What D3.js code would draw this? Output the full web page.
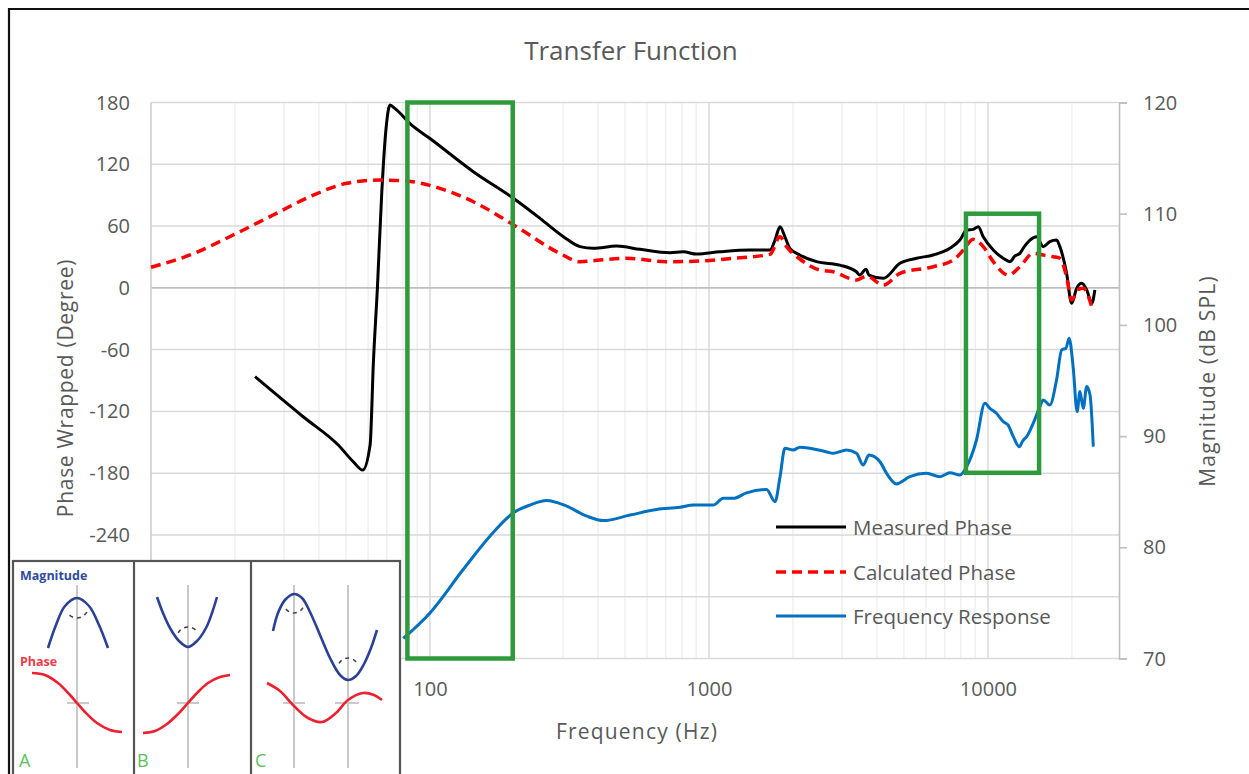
<!DOCTYPE html>
<html>
<head>
<meta charset="utf-8">
<script src="https://cdn.jsdelivr.net/npm/d3@7"></script>
<style>
  html, body { margin: 0; padding: 0; background: #fff; }
  svg { display: block; font-family: "Open Sans", "DejaVu Sans", sans-serif; }
</style>
</head>
<body>
<svg id="chart" width="1249" height="774"></svg>
<script>
// ---- data ----------------------------------------------------------------
const measuredFreq  = [23.6, 35.1, 46.9, 53.1, 57.4, 61.0, 62.7, 64.8, 67.1, 69.6, 71.9, 75, 86, 100, 143, 199, 248, 301, 345, 385, 467, 566, 725, 809, 903, 1095, 1402, 1655, 1725, 1797, 1872, 1949, 2118, 2430, 2944, 3380, 3470, 3657, 3745, 4217, 4838, 5548, 6364, 7305, 7937, 8386, 8860, 9234, 9620, 10450, 11350, 11990, 12500, 13020, 13500, 14150, 14940, 15780, 16670, 17620, 18110, 19140, 19950, 20800, 21680, 22600, 23560, 24170];
const measuredPhase = [-86.3, -125.2, -152.7, -168.9, -177, -152.7, -71.8, 0, 90, 155, 177.5, 174, 158, 145, 112.8, 87, 67.5, 49.6, 40, 38.4, 40.6, 37.4, 34.1, 35, 32.8, 35, 36.7, 36.7, 46.4, 59.3, 49.6, 38.4, 31.9, 25.4, 22.1, 15.6, 12.4, 18, 12.4, 9.2, 23.8, 28.7, 31.9, 38.4, 46.4, 56.1, 56.8, 59.3, 49.6, 36.7, 28.7, 25.4, 31, 33.5, 40, 46.4, 49.6, 40, 44.8, 46.4, 40, 14.1, -15, -0.5, 4.4, -2, -15, -2];

const calcFreq  = [10, 13.8, 19.7, 27.4, 38.2, 50.3, 66.2, 82.4, 108.6, 143, 204.5, 292, 345, 406, 507, 705, 929, 1222, 1655, 1797, 1897, 2118, 2500, 2788, 3380, 3675, 4217, 4838, 6364, 7516, 8167, 8860, 9620, 10450, 11830, 13020, 14530, 15780, 17140, 18110, 19140, 19950, 21080, 21960, 23560];
const calcPhase = [20, 31.9, 51.3, 70.7, 90.1, 101.5, 104.7, 103.7, 96.6, 83.6, 59.3, 33.5, 25.4, 27, 28.7, 25.4, 26, 28.7, 32.5, 49.6, 40, 28, 17.3, 15.6, 7.6, 11.5, 2.7, 14.1, 20.5, 27, 36.7, 47.1, 40, 25.4, 12.4, 20.5, 33.5, 31.9, 30.2, 28.7, 10.8, -11.8, -1.5, -0.5, -18.3];

const magFreq = [80.2, 100, 131.5, 164, 199, 228, 262, 309, 365, 418, 521, 650, 788, 879, 1036, 1126, 1222, 1364, 1609, 1725, 1797, 1872, 2004, 2118, 2622, 2788, 3115, 3380, 3573, 3745, 4102, 4333, 4698, 5248, 6025, 6730, 7305, 7937, 8386, 9100, 9750, 10160, 10730, 11350, 11800, 12330, 12950, 13350, 13770, 14530, 15350, 15780, 16670, 17620, 18380, 19040, 19540, 20200, 20880, 21370, 21960, 22600, 23230, 23860];
const magDb   = [71.8, 74.1, 78, 81, 83.1, 83.8, 84.2, 83.7, 82.8, 82.4, 82.9, 83.4, 83.6, 83.8, 83.8, 84.4, 84.4, 84.9, 85.2, 84.1, 86.3, 88.9, 88.75, 89, 88.6, 88.45, 88.75, 88.45, 87.4, 88.3, 87.7, 86.65, 85.7, 86.35, 86.65, 86.35, 86.7, 86.5, 87.25, 89.65, 92.95, 92.5, 92.05, 91.3, 91.0, 89.95, 89.05, 89.6, 89.95, 91.15, 92.65, 93.25, 92.8, 95.05, 97.75, 97.9, 98.8, 96.25, 92.2, 94, 92.5, 94.45, 93.7, 89.05];

// highlighted frequency bands (Hz) with their magnitude extent (dB)
const bandLowHz  = [83, 8340];
const bandHighHz = [198, 15250];
const bandTopDb  = [120, 110];
const bandBotDb  = [70, 86.7];

const phaseTicks = [180, 120, 60, 0, -60, -120, -180, -240, -300, -360];
const magTicks   = [70, 80, 90, 100, 110, 120];
const freqTickLabels = [10, 100, 1000, 10000];

const legendNames = ["Measured Phase", "Calculated Phase", "Frequency Response"];

// ---- layout --------------------------------------------------------------
const svg = d3.select("#chart");
const plot = { left: 151, right: 1119, top: 102.5, bottom: 658.5 };
const textColor = "#595959";
const plain = d => String(d);   // keeps the ASCII hyphen for negatives

const x = d3.scaleLog().domain([10, 29500]).range([plot.left, plot.right]);
const yPhase = d3.scaleLinear().domain([-360, 180]).range([plot.bottom, plot.top]);
const yMag = d3.scaleLinear().domain([70, 120]).range([plot.bottom, plot.top]);

svg.append("rect").attr("width", 1249).attr("height", 774).attr("fill", "#fff");

// figure frame
svg.append("path")
  .attr("d", "M9,774 V9 H1249")
  .attr("fill", "none").attr("stroke", "#111").attr("stroke-width", 2.2);

// title
svg.append("text").attr("x", 631).attr("y", 50)
  .attr("text-anchor", "middle").attr("dominant-baseline", "central")
  .attr("font-size", 26).attr("fill", textColor).text("Transfer Function");

// vertical gridlines (log decades)
const minorFreqs = [];
for (let dec = 10; dec <= 10000; dec *= 10) {
  for (let m = 1; m <= 9; m++) {
    const f = dec * m;
    if (f <= 29500) minorFreqs.push(f);
  }
}
const gGrid = svg.append("g");
gGrid.selectAll("line.vminor").data(minorFreqs.filter(f => !freqTickLabels.includes(f)))
  .join("line")
  .attr("x1", d => x(d)).attr("x2", d => x(d))
  .attr("y1", plot.top).attr("y2", plot.bottom)
  .attr("stroke", "#ececec").attr("stroke-width", 1.2);
gGrid.selectAll("line.vmajor").data(freqTickLabels.slice(1))
  .join("line")
  .attr("x1", d => x(d)).attr("x2", d => x(d))
  .attr("y1", plot.top).attr("y2", plot.bottom)
  .attr("stroke", "#d9d9d9").attr("stroke-width", 1.5);
gGrid.selectAll("line.h").data(phaseTicks.filter(d => d !== 0))
  .join("line")
  .attr("x1", plot.left).attr("x2", plot.right)
  .attr("y1", d => yPhase(d)).attr("y2", d => yPhase(d))
  .attr("stroke", "#d9d9d9").attr("stroke-width", 1.5);

// axes lines
svg.append("line").attr("x1", plot.left).attr("x2", plot.right)
  .attr("y1", yPhase(0)).attr("y2", yPhase(0))
  .attr("stroke", "#bfbfbf").attr("stroke-width", 1.6);
svg.append("line").attr("x1", plot.left).attr("x2", plot.left)
  .attr("y1", plot.top).attr("y2", plot.bottom)
  .attr("stroke", "#cfcfcf").attr("stroke-width", 1.6);

// right magnitude axis
const rightAxis = d3.axisRight(yMag).tickValues(magTicks).tickSize(8).tickPadding(16).tickFormat(plain);
const gR = svg.append("g").attr("transform", `translate(${plot.right},0)`).call(rightAxis);
gR.select(".domain").attr("stroke", "#bfbfbf").attr("stroke-width", 1.6);
gR.selectAll(".tick line").attr("stroke", "#bfbfbf").attr("stroke-width", 1.6);
gR.selectAll(".tick text").attr("font-size", 20).attr("fill", textColor)
  .attr("font-family", "Open Sans, sans-serif").attr("dy", "0.33em");

// left phase axis labels
const leftAxis = d3.axisLeft(yPhase).tickValues(phaseTicks).tickSize(0).tickPadding(21).tickFormat(plain);
const gL = svg.append("g").attr("transform", `translate(${plot.left},0)`).call(leftAxis);
gL.select(".domain").remove();
gL.selectAll(".tick text").attr("font-size", 20).attr("fill", textColor)
  .attr("font-family", "Open Sans, sans-serif").attr("dy", "0.33em");

// frequency labels
const bottomAxis = d3.axisBottom(x).tickValues(freqTickLabels).tickSize(0).tickFormat(plain);
const gB = svg.append("g").attr("transform", `translate(0,${plot.bottom + 20})`).call(bottomAxis);
gB.select(".domain").remove();
gB.selectAll(".tick text").attr("font-size", 20).attr("fill", textColor)
  .attr("font-family", "Open Sans, sans-serif");

// axis titles
svg.append("text").attr("transform", "translate(65,388) rotate(-90)")
  .attr("text-anchor", "middle").attr("dominant-baseline", "central")
  .attr("font-size", 21).attr("letter-spacing", 0.7)
  .attr("fill", textColor).text("Phase Wrapped (Degree)");
svg.append("text").attr("transform", "translate(1207,381) rotate(-90)")
  .attr("text-anchor", "middle").attr("dominant-baseline", "central")
  .attr("font-size", 21).attr("letter-spacing", 1.2)
  .attr("fill", textColor).text("Magnitude (dB SPL)");
svg.append("text").attr("x", 637).attr("y", 731)
  .attr("text-anchor", "middle").attr("dominant-baseline", "central")
  .attr("font-size", 21).attr("letter-spacing", 1.2)
  .attr("fill", textColor).text("Frequency (Hz)");

// ---- series --------------------------------------------------------------
const phaseLine = d3.line().x(d => x(d[0])).y(d => yPhase(d[1])).curve(d3.curveMonotoneX);
const magLine = d3.line().x(d => x(d[0])).y(d => yMag(d[1])).curve(d3.curveMonotoneX);

svg.append("path").datum(d3.zip(measuredFreq, measuredPhase))
  .attr("d", phaseLine).attr("fill", "none")
  .attr("stroke", "#000").attr("stroke-width", 3).attr("stroke-linejoin", "round");
svg.append("path").datum(d3.zip(calcFreq, calcPhase))
  .attr("d", phaseLine).attr("fill", "none")
  .attr("stroke", "#ff0000").attr("stroke-width", 3.5).attr("stroke-dasharray", "10,6");
svg.append("path").datum(d3.zip(magFreq, magDb))
  .attr("d", magLine).attr("fill", "none")
  .attr("stroke", "#0070c0").attr("stroke-width", 3).attr("stroke-linejoin", "round");

// highlighted bands
svg.selectAll("rect.band").data(d3.range(bandLowHz.length))
  .join("rect")
  .attr("x", i => x(bandLowHz[i]))
  .attr("y", i => yMag(bandTopDb[i]))
  .attr("width", i => x(bandHighHz[i]) - x(bandLowHz[i]))
  .attr("height", i => yMag(bandBotDb[i]) - yMag(bandTopDb[i]))
  .attr("fill", "none").attr("stroke", "#2f9a3c").attr("stroke-width", 4.5);

// ---- legend --------------------------------------------------------------
const legendStyles = [
  { color: "#000", dash: null, width: 3 },
  { color: "#ff0000", dash: "10,6", width: 3.5 },
  { color: "#0070c0", dash: null, width: 3 }
];
const legendY = [527, 572, 616];
const gLeg = svg.append("g");
legendNames.forEach((name, i) => {
  gLeg.append("line").attr("x1", 776).attr("x2", 846)
    .attr("y1", legendY[i]).attr("y2", legendY[i])
    .attr("stroke", legendStyles[i].color).attr("stroke-width", legendStyles[i].width)
    .attr("stroke-dasharray", legendStyles[i].dash);
  gLeg.append("text").attr("x", 853).attr("y", legendY[i])
    .attr("dominant-baseline", "central").attr("font-size", 20.5)
    .attr("fill", textColor).text(name);
});

// ---- explanatory inset: magnitude peak / dip vs. phase shape -------------
const inset = svg.append("g");
inset.append("rect").attr("x", 13).attr("y", 561).attr("width", 387).attr("height", 230)
  .attr("fill", "#fff").attr("stroke", "#555").attr("stroke-width", 2.2);
[134, 251].forEach(px => inset.append("line")
  .attr("x1", px).attr("x2", px).attr("y1", 561).attr("y2", 791)
  .attr("stroke", "#555").attr("stroke-width", 2.2));

const sketch = d3.line().curve(d3.curveCatmullRom);
const grey = "#c9c9c9";
const axesV = [77, 188, 294, 348];
axesV.forEach(px => inset.append("line").attr("x1", px).attr("x2", px)
  .attr("y1", 585).attr("y2", 768).attr("stroke", grey).attr("stroke-width", 2));
[[67, 89], [177, 199], [283, 305], [335, 359]].forEach(([a, b]) => inset.append("line")
  .attr("x1", a).attr("x2", b).attr("y1", 703).attr("y2", 703)
  .attr("stroke", grey).attr("stroke-width", 2));

const blueSketches = [
  [[48, 648], [56, 625], [65, 606], [77, 598], [89, 606], [99, 625], [108, 648]],
  [[157, 597], [163, 613], [170, 628], [179, 641], [188, 647], [197, 641], [206, 628], [212, 613], [217, 597]],
  [[273, 631], [278, 613], [285, 600], [294, 594], [302, 598], [310, 612], [320, 635], [330, 658], [340, 675], [348, 680], [356, 676], [364, 664], [371, 648], [377, 630]]
];
const redSketches = [
  [[32, 673], [45, 675], [58, 683], [70, 695], [77, 703], [85, 712], [97, 723], [110, 730], [122, 732]],
  [[143, 733], [155, 731], [167, 724], [180, 712], [188, 703], [197, 693], [208, 683], [220, 677], [230, 675]],
  [[267, 683], [280, 691], [294, 706], [308, 718], [322, 722], [336, 713], [348, 700], [363, 693], [374, 695], [382, 700]]
];
blueSketches.forEach(pts => inset.append("path").attr("d", sketch(pts))
  .attr("fill", "none").attr("stroke", "#2b4196").attr("stroke-width", 2.6));
redSketches.forEach(pts => inset.append("path").attr("d", sketch(pts))
  .attr("fill", "none").attr("stroke", "#ee2030").attr("stroke-width", 2.6));

// dashed curvature markers: [cx, cy, r, start angle, end angle]
const arcs = [
  [77, 607, 11, 0.15 * Math.PI, 0.85 * Math.PI],
  [188, 638, 11, 1.15 * Math.PI, 1.85 * Math.PI],
  [294, 603, 10, 0.15 * Math.PI, 0.85 * Math.PI],
  [348, 668, 10, 1.15 * Math.PI, 1.85 * Math.PI]
];
arcs.forEach(([cx, cy, r, a0, a1]) => {
  const p = d3.path();
  p.arc(cx, cy, r, a0, a1);
  inset.append("path").attr("d", p.toString()).attr("fill", "none")
    .attr("stroke", "#444").attr("stroke-width", 1.6).attr("stroke-dasharray", "4,4");
});

inset.append("text").attr("x", 20).attr("y", 580).attr("font-size", 12.5)
  .attr("font-weight", "bold").attr("fill", "#2f4a9e").text("Magnitude");
inset.append("text").attr("x", 20).attr("y", 666).attr("font-size", 12.5)
  .attr("font-weight", "bold").attr("fill", "#f03a4a").text("Phase");
[["A", 19], ["B", 137], ["C", 255]].forEach(([t, px]) => inset.append("text")
  .attr("x", px).attr("y", 767).attr("font-size", 18).attr("fill", "#5cc05c").text(t));
</script>
</body>
</html>
